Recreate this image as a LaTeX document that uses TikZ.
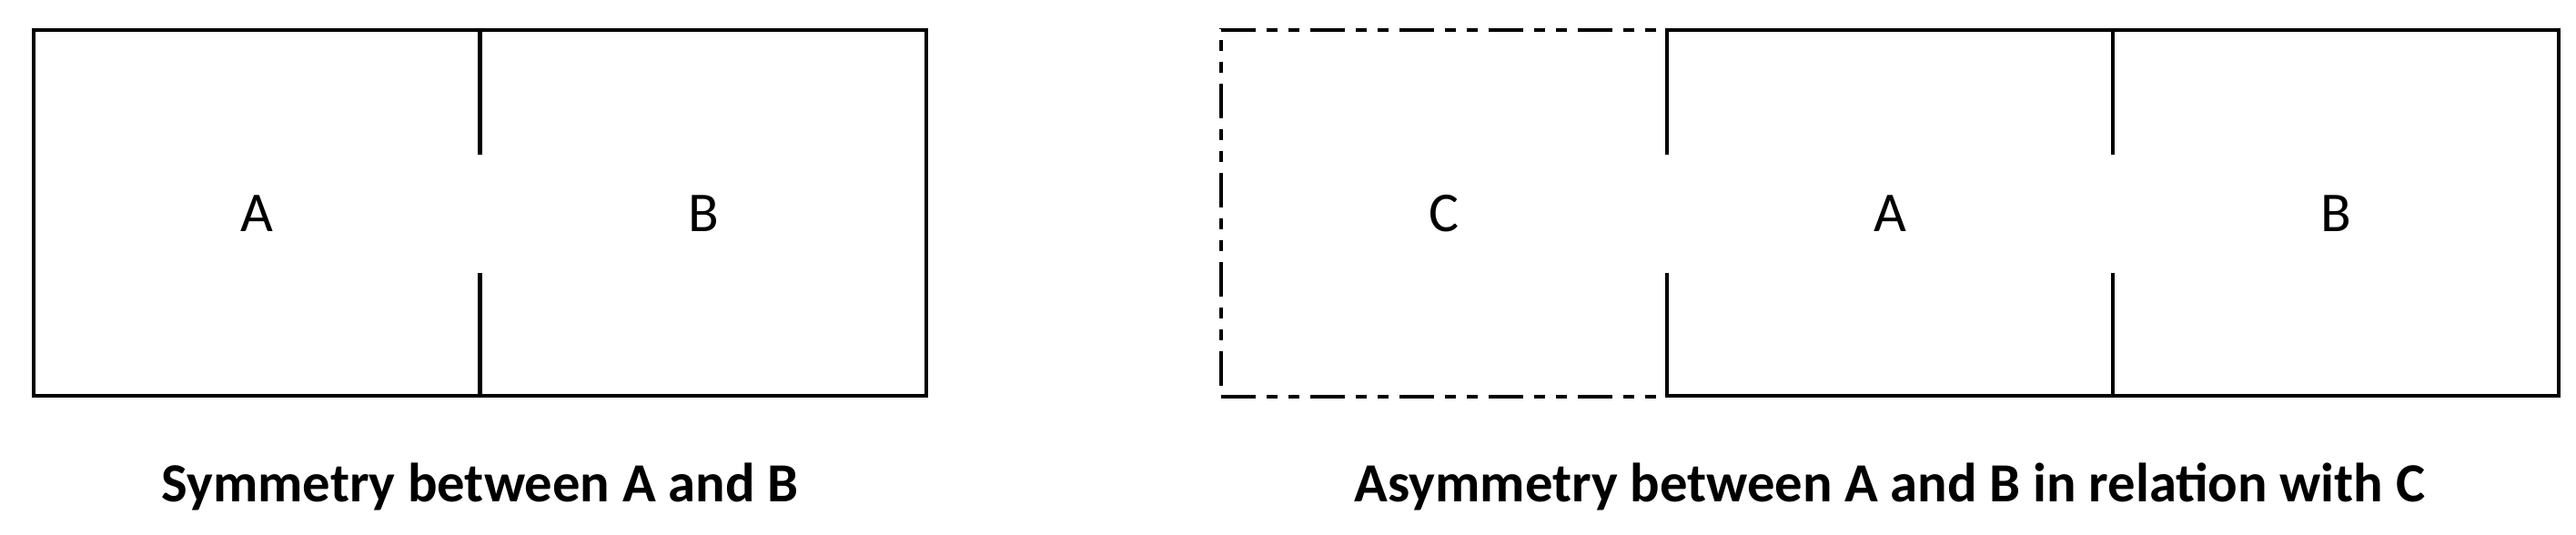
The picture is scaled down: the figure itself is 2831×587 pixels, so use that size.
\documentclass[tikz,border=0pt]{standalone}
\usepackage{fontspec}
\setmainfont{Carlito}
\usetikzlibrary{positioning}

\begin{document}
\begin{tikzpicture}[x=0.01cm,y=-0.01cm,
  wall/.style={line width=1.3pt},
  openwall/.style={line width=1.2pt,dash pattern=on 0.38cm off 0.12cm on 0.12cm off 0.12cm on 0.12cm off 0.12cm},
  roomlabel/.style={font=\fontsize{17.6}{21}\selectfont},
  caption/.style={anchor=base,font=\bfseries\fontsize{17.25}{21}\selectfont}]
\useasboundingbox (0,0) rectangle (2831,587);

% Symmetry between A and B
\draw[wall] (527.5,170) -- (527.5,33) -| (37,435) -| (527.5,300);
\draw[wall] (527.5,170) -- (527.5,33) -| (1018,435) -| (527.5,300);
\node[roomlabel] (symA) at (282,235) {A};
\node[roomlabel] (symB) at (773,235) {B};
\node[caption] (symcap) at (527.5,551) {Symmetry between A and B};

% Asymmetry, open room C
\draw[openwall] (1342,33) -- (1820,33);
\draw[openwall] (1342,436) -- (1820,436);
\draw[openwall,dash phase=0.86cm] (1342,436) -- (1342,31);
\node[roomlabel] (asymC) at (1587,235) {C};

% Rooms A and B
\draw[wall] (1832,170) -- (1832,33) -| (2812,435) -| (1832,300);
\draw[wall] (2322,33) -- (2322,170);
\draw[wall] (2322,300) -- (2322,435);
\node[roomlabel] (asymA) at (2077,235) {A};
\node[roomlabel] (asymB) at (2567,235) {B};
\node[caption] (asymcap) at (2077,551) {Asymmetry between A and B in relation with C};
\end{tikzpicture}
\end{document}
